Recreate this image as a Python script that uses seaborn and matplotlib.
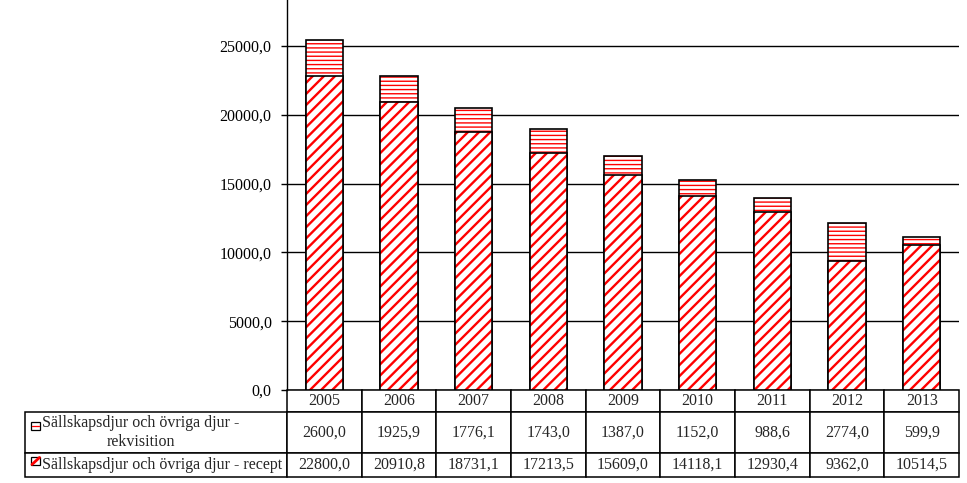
import matplotlib
matplotlib.use("Agg")
import matplotlib.pyplot as plt
from matplotlib.patches import Rectangle
from matplotlib.lines import Line2D
import pandas as pd
import seaborn as sns

sns.set_theme(style="white")
plt.rcParams['font.family'] = ['Liberation Serif', 'DejaVu Serif']

years = ['2005', '2006', '2007', '2008', '2009', '2010', '2011', '2012', '2013']
rekvisition = [2600.0, 1925.9, 1776.1, 1743.0, 1387.0, 1152.0, 988.6, 2774.0, 599.9]
recept = [22800.0, 20910.8, 18731.1, 17213.5, 15609.0, 14118.1, 12930.4, 9362.0, 10514.5]
labels = ['Sällskapsdjur och övriga djur -\nrekvisition',
          'Sällskapsdjur och övriga djur - recept']
yticks = [0, 5000, 10000, 15000, 20000, 25000]


def fmt(v):
    return f"{v:.1f}".replace('.', ',')


def set_hatch_lw(container, lw):
    # hatch width per patch (matplotlib >= 3.10)
    for p in container:
        if hasattr(p, 'set_hatch_linewidth'):
            p.set_hatch_linewidth(lw)


df = pd.DataFrame({'year': years, 'rek': rekvisition, 'rec': recept})
df['total'] = df['rek'] + df['rec']

fig = plt.figure(figsize=(9.67, 4.83), dpi=100)
ax = fig.add_axes([0.2968, 0.1925, 0.695, 0.8075])

# stacked: total bar (horizontal hatch) then recept bar over it (diagonal hatch)
sns.barplot(data=df, x='year', y='total', color='white', edgecolor='red',
            hatch='----', linewidth=0, width=0.5, ax=ax, zorder=3)
set_hatch_lw(ax.containers[-1], 1.0)
sns.barplot(data=df, x='year', y='total', fill=False, edgecolor='black',
            linewidth=1.2, width=0.5, ax=ax, zorder=4)
sns.barplot(data=df, x='year', y='rec', color='white', edgecolor='red',
            hatch='///', linewidth=0, width=0.5, ax=ax, zorder=5)
set_hatch_lw(ax.containers[-1], 1.7)
sns.barplot(data=df, x='year', y='rec', fill=False, edgecolor='black',
            linewidth=1.2, width=0.5, ax=ax, zorder=6)

ax.set_ylim(0, 28340)
ax.set_xlim(-0.5, len(years) - 0.5)
ax.set_yticks(yticks)
ax.set_yticklabels([fmt(v) for v in yticks], fontsize=11.5)
ax.yaxis.grid(True, color='black', linewidth=1.0)
ax.set_axisbelow(True)
ax.tick_params(axis='y', left=True, direction='out', length=4, width=1.0,
               pad=7, colors='black')
ax.tick_params(axis='x', bottom=False, labelbottom=False)
ax.set_xlabel('')
ax.set_ylabel('')
for side in ['top', 'right', 'bottom']:
    ax.spines[side].set_visible(False)
ax.spines['left'].set_color('black')
ax.spines['left'].set_linewidth(1.0)

# data table; bbox covers the value cells only, the label column sits left of it
ax_w, ax_h = 672.0, 390.0
cell_text = [[fmt(v) for v in rekvisition], [fmt(v) for v in recept]]
table = ax.table(cellText=cell_text, rowLabels=labels, colLabels=years,
                 cellLoc='center', rowLoc='left',
                 bbox=[0.0, -0.2231, 1.0, 0.2231])
# keep a fixed width for the label column instead of auto sizing
if hasattr(table, '_autoColumns'):
    table._autoColumns = [c for c in table._autoColumns if c != -1]
table.auto_set_font_size(False)
table.set_fontsize(11.5)
row_h = {0: 22, 1: 41, 2: 24}
for (r, c), cell in table.get_celld().items():
    cell.set_height(row_h[r] / ax_h)
    cell.set_width((262 if c == -1 else 74.67) / ax_w)
    cell.set_edgecolor('black')
    cell.set_linewidth(1.1)
    if c == -1:
        cell.PAD = 0.066
        cell.get_text().set_multialignment('center')

# legend keys inside the row label cells
fw, fh = 967, 483


def fx(x):
    return x / fw


def fy(y):
    return 1 - y / fh


for y0, kind in [(422, 'rek'), (457, 'rec')]:
    fig.patches.append(Rectangle((fx(31), fy(y0 + 8)), 9 / fw, 8 / fh,
                                 transform=fig.transFigure, facecolor='white',
                                 edgecolor='black', linewidth=0.9, zorder=5))
    if kind == 'rek':
        fig.lines.append(Line2D([fx(32), fx(39)], [fy(y0 + 4), fy(y0 + 4)],
                                transform=fig.transFigure, color='red',
                                linewidth=0.9, zorder=6))
    else:
        fig.lines.append(Line2D([fx(32), fx(39.5)], [fy(y0 + 7.5), fy(y0 + 0.5)],
                                transform=fig.transFigure, color='red',
                                linewidth=2.0, zorder=6))

fig.savefig('out.png', dpi=100)
